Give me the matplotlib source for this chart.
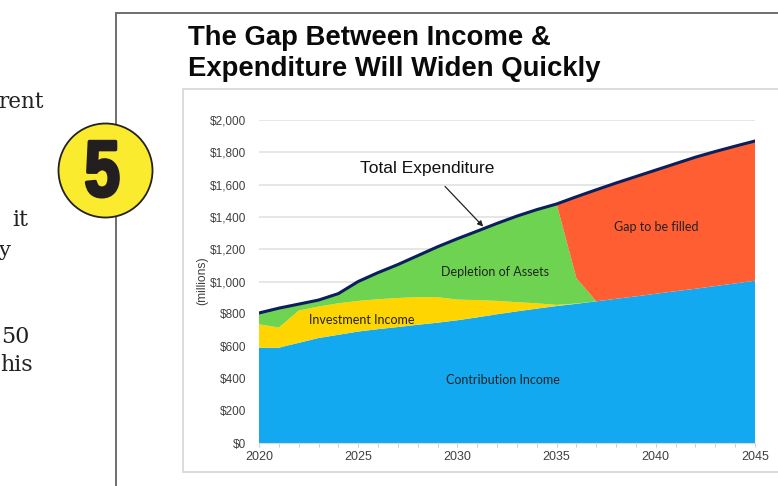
import numpy as np
import matplotlib
matplotlib.use('Agg')
import matplotlib.pyplot as plt
import matplotlib.patheffects as pe
from matplotlib.patches import Rectangle, Circle
from matplotlib.transforms import Affine2D

W, H = 778, 486

years = np.arange(2020, 2046)
contribution = [590, 590, 620, 650, 670, 690, 705, 718, 732, 745, 760, 778, 797,
                815, 832, 848, 862, 877, 893, 908, 924, 940, 955, 972, 988, 1005]
investment = [145, 125, 200, 195, 195, 190, 185, 180, 171, 158, 128, 107, 83,
              57, 33, 7, 2, 0, 0, 0, 0, 0, 0, 0, 0, 0]
depletion = [70, 120, 40, 40, 60, 120, 165, 207, 257, 312, 377, 427, 480,
             533, 580, 625, 156, 0, 0, 0, 0, 0, 0, 0, 0, 0]
gap = [0, 0, 0, 0, 0, 0, 0, 0, 0, 0, 0, 0, 0,
       0, 0, 0, 505, 691, 717, 742, 766, 790, 815, 833, 850, 865]
total_expenditure = [805, 835, 860, 885, 925, 1000, 1055, 1105, 1160, 1215, 1265, 1312, 1360,
                     1405, 1445, 1480, 1525, 1568, 1610, 1650, 1690, 1730, 1770, 1805, 1838, 1870]

y_ticks = list(range(0, 2001, 200))
y_labels = ['$' + format(v, ',') for v in y_ticks]
x_labels = [2020, 2025, 2030, 2035, 2040, 2045]


class CondensedGlyph(pe.AbstractPathEffect):
    """Squeeze a glyph sideways about its own centre and thicken it."""

    def __init__(self, xscale, stroke):
        super().__init__()
        self.xscale = xscale
        self.stroke = stroke

    def draw_path(self, renderer, gc, tpath, affine, rgbFace=None):
        verts = affine.transform(tpath.vertices)
        cx = (verts[:, 0].min() + verts[:, 0].max()) / 2
        squeeze = Affine2D().translate(-cx, 0).scale(self.xscale, 1).translate(cx, 0)
        gc0 = renderer.new_gc()
        gc0.copy_properties(gc)
        gc0.set_linewidth(self.stroke)
        gc0.set_foreground(rgbFace)
        renderer.draw_path(gc0, tpath, affine + squeeze, rgbFace)
        gc0.restore()


fig = plt.figure(figsize=(W / 100, H / 100), dpi=100)

# page layer in pixel coordinates, y pointing down
page = fig.add_axes([0, 0, 1, 1], zorder=0)
page.set_xlim(0, W)
page.set_ylim(H, 0)
page.axis('off')

page.plot([116, 116, W], [H, 13, 13], color='#6e6e6e', lw=1.4, solid_joinstyle='miter')
page.add_patch(Rectangle((183.5, 89.5), 700, 382, fc='white', ec='#d9d9d9', lw=1.3))

for txt, x, y, size in [('rent', 44, 108, 15.5), ('it', 28, 226, 16), ('y', 11, 256, 15),
                        ('50', 30, 343, 16), ('his', 33, 371, 16)]:
    page.text(x, y, txt, family='DejaVu Serif', fontsize=size, color='#222222',
              ha='right', va='baseline')

page.text(188, 45, 'The Gap Between Income &', family='Liberation Sans', weight='bold',
          fontsize=19.85, color='#0a0a0a', va='baseline')
page.text(188, 76, 'Expenditure Will Widen Quickly', family='Liberation Sans', weight='bold',
          fontsize=19.85, color='#0a0a0a', va='baseline')

# numbered badge sits over the page rule
badge = fig.add_axes([0, 0, 1, 1], zorder=3)
badge.set_xlim(0, W)
badge.set_ylim(H, 0)
badge.axis('off')
badge.add_patch(Circle((105.5, 170.5), 47, fc='#fbeb2e', ec='#222222', lw=1.3))
five = badge.text(102.5, 196, '5', family='Liberation Sans', weight='bold',
                  fontsize=57, color='#231f20', ha='center', va='baseline')
five.set_path_effects([CondensedGlyph(0.8, 2.5)])

# stacked chart
ax = fig.add_axes([259 / W, (H - 443) / H, (755 - 259) / W, 323 / H], zorder=2)
ax.patch.set_alpha(0)
ax.stackplot(years, contribution, investment, depletion, gap,
             colors=['#12a9f0', '#ffd500', '#6dd350', '#ff5e33'], lw=0, zorder=2)
ax.plot(years, total_expenditure, color='#0b1f5c', lw=2.2, zorder=3)

ax.set_xlim(2020, 2045)
ax.set_ylim(0, 2000)
ax.set_yticks(y_ticks)
ax.set_yticklabels(y_labels, family='Liberation Sans', fontsize=8.5, color='#404040')
ax.set_xticks(years)
ax.set_xticklabels([str(y) if y in x_labels else '' for y in years],
                   family='Liberation Sans', fontsize=9, color='#404040')
ax.tick_params(axis='y', length=0, pad=9)
ax.tick_params(axis='x', length=3, color='#cfcfcf', pad=3)
ax.grid(axis='y', color='#e2e2e2', lw=1.2, zorder=1)
ax.set_axisbelow(True)
for side in ['top', 'right', 'left']:
    ax.spines[side].set_visible(False)
ax.spines['bottom'].set_color('#d9d9d9')

page.text(202, 281, '(millions)', family='Liberation Sans', fontsize=8.7, color='#404040',
          rotation=90, ha='center', va='center')

label_font = dict(family='Lato', fontsize=9, color='#222222', ha='center', va='center', zorder=4)
ax.text(2025.2, 760, 'Investment Income', **label_font)
ax.text(2031.9, 1058, 'Depletion of Assets', **label_font)
ax.text(2032.3, 390, 'Contribution Income', **label_font)
ax.text(2040, 1337, 'Gap to be filled', **label_font)

ax.annotate('Total Expenditure', xy=(2031.3, 1340), xytext=(2028.5, 1702),
            family='Liberation Sans', fontsize=12.5, color='#111111', ha='center', va='center',
            arrowprops=dict(arrowstyle='-|>', color='#222222', lw=0.9, shrinkA=8, shrinkB=0,
                            mutation_scale=8), zorder=5)

fig.savefig('out.png', dpi=100)
